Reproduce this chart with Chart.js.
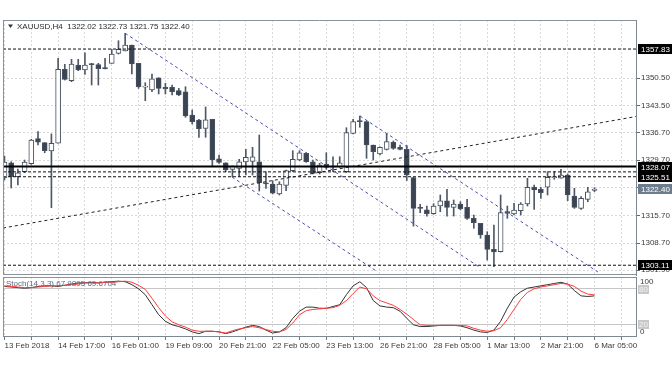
<!DOCTYPE html>
<html><head><meta charset="utf-8">
<script src="https://cdn.jsdelivr.net/npm/chart.js@4.4.1/dist/chart.umd.min.js"></script>
<style>
html,body{margin:0;padding:0;background:#fff;width:672px;height:372px;overflow:hidden}
#c1{position:absolute;left:0;top:0}
#c2{position:absolute;left:0;top:277px}
</style></head><body>
<canvas id="c1" width="672" height="277"></canvas>
<canvas id="c2" width="672" height="95"></canvas>
<script>
const symbolTitle = "XAUUSD,H4  1322.02 1322.73 1321.75 1322.40";
const stochTitle = "Stoch(14,3,3) 67.9895 69.6704";

const opens = [1325.19,1329.06,1325.52,1326.78,1328.80,1335.14,1334.13,1332.03,1333.98,1352.70,
1349.81,1353.79,1352.52,1354.04,1353.87,1353.03,1354.22,1356.75,1357.33,1358.85,
1354.22,1348.30,1347.46,1350.57,1348.14,1348.14,1347.29,1347.03,1341.13,1339.87,
1337.72,1340.04,1330.07,1329.06,1327.39,1327.64,1329.24,1329.40,1329.31,1323.85,
1323.67,1321.14,1323.34,1327.04,1329.74,1331.44,1329.31,1326.53,1328.73,1328.05,
1328.05,1326.78,1336.50,1339.62,1339.44,1333.54,1331.26,1332.45,1334.23,1332.96,
1332.45,1325.31,1317.67,1317.16,1316.15,1318.10,1319.44,1317.76,1318.61,1317.76,
1314.98,1313.72,1310.76,1307.14,1306.54,1316.66,1316.08,1316.91,1318.61,1322.84,
1322.33,1322.84,1325.37,1325.12,1325.95,1320.63,1317.50,1319.80,1322.02];
const highs = [1330.75,1329.31,1327.46,1329.74,1334.99,1336.91,1334.13,1336.34,1355.48,1353.97,
1355.23,1355.23,1356.90,1354.22,1354.22,1355.48,1357.76,1359.94,1361.81,1358.85,
1354.22,1349.31,1351.51,1350.57,1349.16,1348.73,1347.89,1348.30,1342.40,1340.04,
1343.16,1340.04,1330.99,1329.06,1328.23,1329.92,1332.45,1332.96,1336.07,1326.78,
1324.51,1324.25,1327.21,1332.10,1332.10,1331.59,1329.74,1328.90,1331.59,1330.58,
1330.58,1337.92,1340.04,1340.88,1339.62,1333.54,1333.11,1336.50,1334.56,1333.54,
1333.42,1325.31,1318.53,1318.10,1318.69,1320.89,1322.33,1319.62,1319.19,1319.80,
1315.82,1313.72,1311.60,1313.29,1320.89,1318.10,1318.78,1318.95,1325.12,1323.41,
1322.84,1326.78,1326.78,1327.39,1326.20,1322.58,1320.46,1322.84,1322.73];
const lows = [1324.68,1322.66,1323.41,1326.53,1328.64,1333.54,1331.59,1317.67,1333.98,1349.99,
1349.56,1352.35,1351.43,1348.73,1348.73,1352.78,1354.22,1356.57,1357.33,1351.51,
1347.89,1344.75,1347.03,1346.45,1346.45,1346.20,1346.02,1340.55,1338.86,1335.49,
1335.49,1328.05,1328.90,1326.78,1325.52,1325.52,1325.95,1325.95,1321.89,1322.58,
1321.14,1320.89,1321.97,1326.78,1329.57,1329.16,1326.20,1326.20,1327.39,1326.78,
1327.89,1326.53,1336.33,1338.02,1330.17,1329.74,1331.01,1332.27,1332.45,1332.27,
1324.55,1313.01,1316.40,1315.56,1315.99,1316.66,1315.56,1315.56,1317.09,1314.73,
1312.46,1309.93,1304.43,1302.74,1306.46,1314.98,1315.82,1315.82,1318.10,1317.26,
1320.05,1320.89,1324.86,1325.12,1319.44,1317.50,1317.26,1319.19,1321.75];
const closes = [1329.23,1325.52,1326.53,1329.24,1334.81,1334.23,1332.10,1333.98,1352.70,1350.17,
1354.04,1352.52,1353.79,1353.97,1352.85,1352.95,1356.57,1357.76,1358.85,1354.04,
1348.30,1348.37,1350.32,1347.89,1347.71,1347.03,1346.20,1340.88,1339.44,1337.67,
1339.92,1329.74,1329.16,1327.21,1328.23,1329.31,1330.43,1330.55,1323.99,1323.77,
1321.32,1323.67,1327.04,1329.92,1331.59,1329.31,1326.38,1328.47,1327.89,1328.10,
1329.06,1336.66,1339.44,1339.54,1333.54,1331.85,1332.96,1334.38,1332.70,1332.45,
1325.95,1317.52,1317.60,1316.15,1318.10,1319.44,1317.76,1318.61,1317.42,1314.98,
1313.87,1310.76,1307.14,1306.46,1316.41,1316.25,1317.09,1318.61,1322.84,1322.15,
1321.47,1325.37,1325.45,1325.95,1320.89,1317.76,1320.05,1321.72,1322.40];

const stochK = [84,83,82,81,82,84,85,85,84,86,
88,90,90,91,90,91,92,93,92,87,
80,70,53,36,25,19,16,12,7,4,
8,8,7,4,7,11,15,18,16,10,
5,7,14,30,42,49,49,47,47,50,
53,70,85,92,82,60,51,49,48,42,
30,19,16,16,17,18,18,18,17,14,
10,7,6,10,25,47,66,75,81,83,
85,87,89,91,88,77,68,67,67.9895];
const stochD = [85,84,83,82,82,83,84,85,85,86,
87,88,90,90,90,91,91,92,93,91,
86,79,64,48,34,24,19,15,10,8,
8,8,7,5,9,12,14,16,14,11,
8,7,11,22,36,43,45,46,47,48,
52,60,72,83,80,68,60,56,52,45,
37,28,19,18,18,18,18,18,18,17,
13,10,8,9,14,28,45,62,74,80,
83,85,87,89,88,84,76,71,69.6704];

const timeTickIndex = [0,8,16,24,32,40,48,56,64,72,80,88];
const timeTickText = ["13 Feb 2018","14 Feb 17:00","16 Feb 01:00","19 Feb 09:00","20 Feb 21:00","22 Feb 05:00","23 Feb 13:00","26 Feb 21:00","28 Feb 05:00","1 Mar 13:00","2 Mar 21:00","6 Mar 05:00"];
const priceTicks = [1350.50,1343.50,1336.70,1329.70,1322.70,1315.70,1308.70,1301.90];
const levelDotted = [1357.83, 1326.74, 1325.51, 1303.11];
const levelSolid = [1328.07];
const boxLevels = [1326.74, 1325.51, 1328.07, 1303.11, 1357.83];
const lastPrice = 1322.40;
const trendBlack = [[-0.22,1312.53],[94.19,1340.75]];
const channelLines = [
  [[18,1361.81],[70.92,1302.54]],
  [[33.93,1325.44],[55.7,1301.40]],
  [[53.02,1340.88],[88.52,1301.40]]
];
const stochLevels = [80, 20];

const XMIN = -0.22, XMAX = 94.19;
const YMIN = 1300.64, YMAX = 1365.18;
const FONT = 'Liberation Sans';
const gridIdx = [];
for (let v = 0; v <= XMAX; v += 4) gridIdx.push(v);

const idx = opens.map((_, i) => i);
const wickData = idx.map(i => ({x: i, y: [lows[i], highs[i]]}));
const bodyData = idx.map(i => {
  let a = Math.min(opens[i], closes[i]), b = Math.max(opens[i], closes[i]);
  if (b - a < 0.25) { const m = (a + b) / 2; a = m - 0.13; b = m + 0.13; }
  return {x: i, y: [a, b]};
});
const bodyFill = idx.map(i => closes[i] > opens[i] ? '#ffffff' : '#3b4452');

const lineDs = (pts, color, dash, width) => ({
  type: 'line', data: pts.map(([x, y]) => ({x, y})), borderColor: color,
  borderDash: dash, borderWidth: width, pointRadius: 0, fill: false, tension: 0, order: 0
});
const datasets = [];
levelSolid.forEach(v => datasets.push(lineDs([[XMIN, v], [XMAX, v]], '#000', [], 2)));
levelDotted.forEach(v => datasets.push(lineDs([[XMIN, v], [XMAX, v]], '#111', [3, 2], 1)));
datasets.push(lineDs(trendBlack, '#222', [3, 3], 1));
channelLines.forEach(l => datasets.push(lineDs(l, '#4a4ab4', [3, 3], 1)));
datasets.push({type: 'bar', data: bodyData, backgroundColor: bodyFill, borderColor: '#47515e',
  borderWidth: 1, borderSkipped: false, barThickness: 5, grouped: false, order: 1});
datasets.push({type: 'bar', data: wickData, backgroundColor: '#4f5966', borderWidth: 0,
  barThickness: 1, grouped: false, order: 2});

const mainDeco = {
  id: 'mainDeco',
  afterDraw(chart) {
    const ctx = chart.ctx, a = chart.chartArea, ys = chart.scales.y;
    ctx.save();
    ctx.strokeStyle = '#8a929b'; ctx.lineWidth = 1;
    ctx.beginPath();
    ctx.moveTo(a.left + 0.5, a.top); ctx.lineTo(a.left + 0.5, a.bottom);
    ctx.moveTo(a.left, a.top + 0.5); ctx.lineTo(a.right, a.top + 0.5);
    ctx.moveTo(a.left, a.bottom - 0.5); ctx.lineTo(a.right, a.bottom - 0.5);
    ctx.stroke();
    // title
    ctx.fillStyle = '#333';
    ctx.beginPath(); ctx.moveTo(8, 24.5); ctx.lineTo(13, 24.5); ctx.lineTo(10.5, 28); ctx.closePath(); ctx.fill();
    ctx.font = '8px ' + FONT; ctx.textBaseline = 'middle'; ctx.textAlign = 'left';
    ctx.fillStyle = '#2a2a2a';
    ctx.fillText(symbolTitle, 17, 27);
    // price boxes
    const box = (v, bg) => {
      const y = Math.round(ys.getPixelForValue(v));
      ctx.fillStyle = bg; ctx.fillRect(638, y - 5, 34, 10);
      ctx.fillStyle = '#fff'; ctx.fillText(v.toFixed(2), 641, y + 0.5);
    };
    boxLevels.forEach(v => box(v, '#000'));
    box(lastPrice, '#6d7c8c');
    ctx.restore();
  }
};

new Chart(document.getElementById('c1'), {
  type: 'bar',
  data: {datasets},
  options: {
    responsive: false, animation: false, events: [],
    layout: {padding: {left: 3, top: 20, right: 0, bottom: 2}, autoPadding: false},
    plugins: {legend: {display: false}, tooltip: {enabled: false}},
    scales: {
      x: {type: 'linear', min: XMIN, max: XMAX, bounds: 'data', offset: false,
        afterBuildTicks: s => { s.ticks = gridIdx.map(v => ({value: v})); },
        ticks: {display: false},
        grid: {color: '#dadada', drawTicks: false, offset: false},
        border: {display: false, dash: [2, 2]},
        afterFit: s => { s.height = 0; s.paddingLeft = 0; s.paddingRight = 0; }},
      y: {position: 'right', min: YMIN, max: YMAX, bounds: 'data',
        afterBuildTicks: s => { s.ticks = priceTicks.map(v => ({value: v})); },
        ticks: {font: {family: FONT, size: 8}, color: '#3a3a3a', padding: 1, callback: v => Number(v).toFixed(2)},
        grid: {color: '#dadada', tickLength: 4, tickColor: '#666'},
        border: {color: '#7f8891', dash: [2, 2]},
        afterFit: s => { s.width = 36; s.paddingTop = 0; s.paddingBottom = 0; }}
    }
  },
  plugins: [mainDeco]
});

const stochDeco = {
  id: 'stochDeco',
  afterDraw(chart) {
    const ctx = chart.ctx, a = chart.chartArea, ys = chart.scales.y;
    ctx.save();
    ctx.strokeStyle = '#8a929b'; ctx.lineWidth = 1;
    ctx.beginPath();
    ctx.moveTo(a.left + 0.5, a.top); ctx.lineTo(a.left + 0.5, a.bottom);
    ctx.moveTo(a.left, a.top + 0.5); ctx.lineTo(a.right, a.top + 0.5);
    ctx.stroke();
    ctx.font = '8px ' + FONT; ctx.textBaseline = 'middle'; ctx.textAlign = 'left';
    ctx.fillStyle = '#5a6a80';
    ctx.fillText(stochTitle, 6, 7);
    ctx.fillStyle = '#3a3a3a';
    ctx.fillText('100', 640, ys.getPixelForValue(100) + 5);
    ctx.fillText('0', 640, ys.getPixelForValue(0) - 4);
    stochLevels.forEach(v => {
      const y = Math.round(ys.getPixelForValue(v));
      ctx.fillStyle = '#c8c8c8'; ctx.fillRect(638, y - 4, 11, 9);
      ctx.fillStyle = '#f4f4f4'; ctx.fillText(String(v), 639, y + 0.5);
    });
    ctx.restore();
  }
};

new Chart(document.getElementById('c2'), {
  type: 'line',
  data: {datasets: [
    {data: idx.map(i => ({x: i, y: stochD[i]})), borderColor: '#ff3b3b', borderWidth: 1, pointRadius: 0, tension: 0, order: 0},
    {data: idx.map(i => ({x: i, y: stochK[i]})), borderColor: '#333', borderWidth: 1, pointRadius: 0, tension: 0, order: 1}
  ]},
  options: {
    responsive: false, animation: false, events: [],
    layout: {padding: {left: 3, top: 0, right: 0, bottom: 0}, autoPadding: false},
    plugins: {legend: {display: false}, tooltip: {enabled: false}},
    scales: {
      x: {type: 'linear', min: XMIN, max: XMAX, bounds: 'data', offset: false,
        afterBuildTicks: s => { s.ticks = gridIdx.map(v => ({value: v})); },
        ticks: {autoSkip: false, maxRotation: 0, minRotation: 0, align: 'start', padding: 1,
          font: {family: FONT, size: 8}, color: '#3a3a3a',
          callback: v => { const k = timeTickIndex.indexOf(Math.round(v)); return k >= 0 ? timeTickText[k] : ''; }},
        grid: {color: '#dadada', tickLength: 4, tickColor: '#777', offset: false},
        border: {color: '#7f8891', dash: [2, 2]},
        afterFit: s => { s.height = 36; s.paddingLeft = 0; s.paddingRight = 0; }},
      y: {position: 'right', min: 0, max: 100, bounds: 'data',
        afterBuildTicks: s => { s.ticks = stochLevels.map(v => ({value: v})); },
        ticks: {display: false},
        grid: {color: '#c6c6c6', drawTicks: false},
        border: {color: '#7f8891'},
        afterFit: s => { s.width = 36; s.paddingTop = 0; s.paddingBottom = 0; }}
    }
  },
  plugins: [stochDeco]
});
</script>
</body></html>
